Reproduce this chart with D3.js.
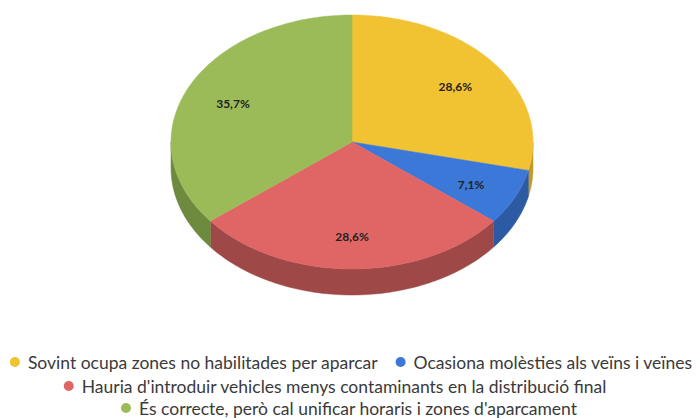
<!DOCTYPE html>
<html>
  <head lang="ca">
    <meta charset="utf-8">
    <title>D3 Pie Chart</title>
    <script type="text/javascript" src="https://cdn.jsdelivr.net/npm/d3@7/dist/d3.min.js"></script>
    <style>
      body { margin: 0; background: #fff; }
    </style>
  </head>
  <body>
    <script type="text/javascript">

      // data
      var categories = [
        "Sovint ocupa zones no habilitades per aparcar",
        "Ocasiona molèsties als veïns i veïnes",
        "Hauria d'introduir vehicles menys contaminants en la distribució final",
        "És correcte, però cal unificar horaris i zones d'aparcament"
      ];
      var values = [28.6, 7.1, 28.6, 35.7];
      var labels = ["28,6%", "7,1%", "28,6%", "35,7%"];
      var topColors = ["#f1c232", "#3c78d8", "#e06666", "#9bbb59"];
      var sideColors = ["#bf9a28", "#2d5ba3", "#9e4848", "#6e8a3e"];

      var width = 697, height = 418;
      var cx = 352, cy = 142, rx = 181, ry = 127, depth = 26;

      var svg = d3.select("body")
                  .append("svg")
                  .attr("width", width)
                  .attr("height", height)
                  .style("font-family", "Lato, 'Open Sans', sans-serif");

      var pie = d3.pie().sort(null).value(function(d) { return d; });
      var arcs = pie(values);

      // projected point on the tilted ellipse
      function pt(a, k, dy) {
        return [cx + k * rx * Math.sin(a), cy - k * ry * Math.cos(a) + (dy || 0)];
      }
      function samples(a0, a1) {
        var n = Math.max(2, Math.ceil(Math.abs(a1 - a0) / 0.02));
        return d3.range(n + 1).map(function(i) { return a0 + (a1 - a0) * i / n; });
      }
      var line = d3.line();

      // side walls (only the front half is visible)
      arcs.forEach(function(d, i) {
        var a0 = Math.max(d.startAngle, Math.PI / 2);
        var a1 = Math.min(d.endAngle, 3 * Math.PI / 2);
        if (a1 <= a0) return;
        var top = samples(a0, a1).map(function(a) { return pt(a, 1, 0); });
        var bottom = samples(a1, a0).map(function(a) { return pt(a, 1, depth); });
        svg.append("path")
           .attr("d", line(top.concat(bottom)) + "Z")
           .attr("fill", sideColors[i])
           .attr("stroke", sideColors[i])
           .attr("stroke-width", 0.5);
      });

      // top slices
      arcs.forEach(function(d, i) {
        var pts = [[cx, cy]].concat(samples(d.startAngle, d.endAngle).map(function(a) { return pt(a, 1, 0); }));
        svg.append("path")
           .attr("d", line(pts) + "Z")
           .attr("fill", topColors[i])
           .attr("stroke", topColors[i])
           .attr("stroke-width", 0.5);
      });

      // slice labels
      svg.selectAll("text.lbl")
         .data(arcs)
         .enter()
         .append("text")
         .attr("class", "lbl")
         .attr("x", function(d) { return pt((d.startAngle + d.endAngle) / 2, 0.73)[0]; })
         .attr("y", function(d) { return pt((d.startAngle + d.endAngle) / 2, 0.73)[1] + 2; })
         .attr("text-anchor", "middle")
         .attr("dominant-baseline", "central")
         .attr("font-size", 12)
         .attr("font-weight", "bold")
         .attr("fill", "#222")
         .text(function(d, i) { return labels[i]; });

      // legend, three rows
      var rows = [[0, 1], [2], [3]];
      var rowY = [362, 386, 408];
      var rowCenter = [351, 335, 349];
      var dotR = 5, dotGap = 13, itemGap = 23;
      var legend = svg.append("g");

      // fit the font so the first entry is as wide as in the picture
      var probe = legend.append("text").attr("font-size", 16).text(categories[0]);
      var fontSize = 16 * 350 / probe.node().getComputedTextLength();
      probe.remove();

      rows.forEach(function(row, r) {
        var g = legend.append("g");
        var x = 0;
        row.forEach(function(ci, j) {
          if (j > 0) x += itemGap - dotR;
          g.append("circle")
           .attr("cx", x + dotR)
           .attr("cy", rowY[r])
           .attr("r", dotR)
           .attr("fill", topColors[ci]);
          var t = g.append("text")
           .attr("x", x + dotR + dotGap)
           .attr("y", rowY[r])
           .attr("dominant-baseline", "central")
           .attr("font-size", fontSize)
           .attr("fill", "#3a3a3a")
           .text(categories[ci]);
          x += dotR + dotGap + t.node().getComputedTextLength();
        });
        g.attr("transform", "translate(" + (rowCenter[r] - x / 2) + ",0)");
      });
    </script>
  </body>
</html>
